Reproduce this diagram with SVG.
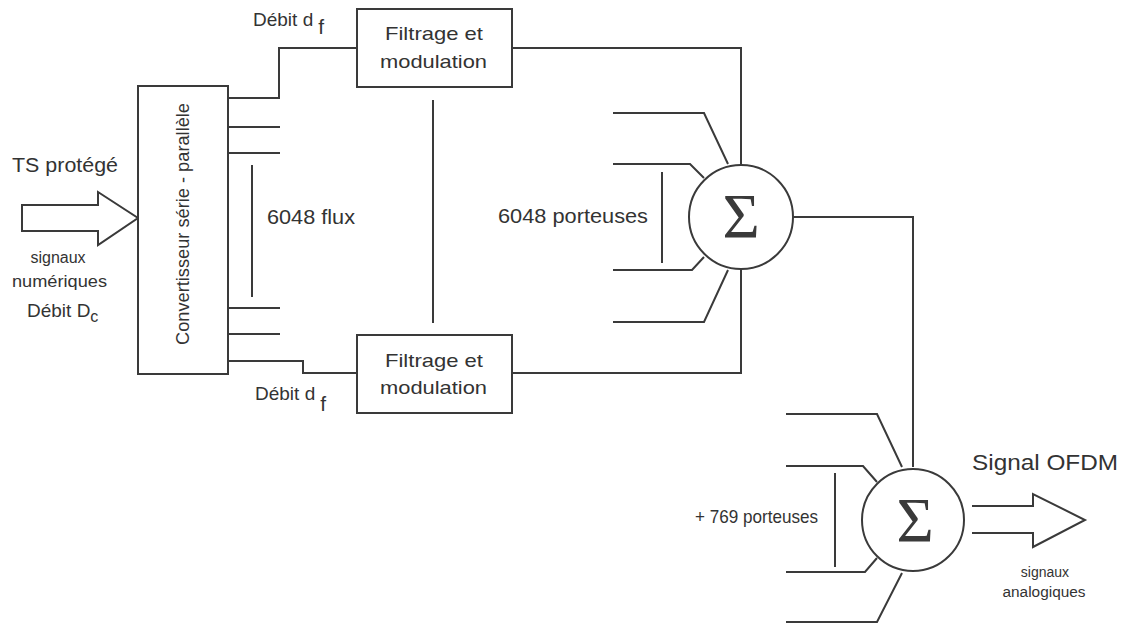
<svg xmlns="http://www.w3.org/2000/svg" width="1125" height="624" viewBox="0 0 1125 624">
<style>
.ln{fill:none;stroke:#3a3a3a;stroke-width:2}
.bx{fill:#fff;stroke:#3a3a3a;stroke-width:2}
.t{font-family:"Liberation Sans",Arial,sans-serif;fill:#333}
.sg{font-family:"Liberation Serif","Times New Roman",serif;fill:#3a3a3a;font-size:64px;text-anchor:middle}
</style>
<rect width="1125" height="624" fill="#fff"/>
<g id="connectors">
<polyline class="ln" points="228,98 279,98 279,48 357,48"/>
<line class="ln" x1="228" y1="127" x2="280" y2="127"/>
<line class="ln" x1="228" y1="153" x2="280" y2="153"/>
<line class="ln" x1="252" y1="165" x2="252" y2="297"/>
<line class="ln" x1="228" y1="308" x2="280" y2="308"/>
<line class="ln" x1="228" y1="334" x2="280" y2="334"/>
<polyline class="ln" points="228,361 303,361 303,373 357,373"/>
<line class="ln" x1="433" y1="100" x2="433" y2="323"/>
<polyline class="ln" points="512,48 741,48 741,165"/>
<polyline class="ln" points="512,373 741,373 741,269"/>
<polyline class="ln" points="613,113 704,113 728,164"/>
<polyline class="ln" points="613,164 690,164 704,178"/>
<line class="ln" x1="662" y1="172" x2="662" y2="263"/>
<polyline class="ln" points="613,270 692,270 704,257"/>
<polyline class="ln" points="613,322 704,322 728,270"/>
<polyline class="ln" points="792,217 913,217 913,467"/>
<polyline class="ln" points="786,414 877,414 902,467"/>
<polyline class="ln" points="786,466 863,466 877,482"/>
<line class="ln" x1="835" y1="473" x2="835" y2="567"/>
<polyline class="ln" points="786,572 865,572 877,558"/>
<polyline class="ln" points="786,622 877,622 902,573"/>
</g>
<g id="input-arrow">
<polygon class="bx" points="22,205 98,205 98,192 138,218 98,245 98,231 22,231"/>
<text class="t" x="12" y="172" font-size="20" textLength="106" lengthAdjust="spacingAndGlyphs">TS protégé</text>
<text class="t" x="58" y="263" font-size="16" text-anchor="middle">signaux</text>
<text class="t" x="12" y="287" font-size="16" textLength="95" lengthAdjust="spacingAndGlyphs">numériques</text>
<text class="t" x="27" y="317" font-size="19">Débit D<tspan font-size="16" dy="5">c</tspan></text>
</g>
<g id="converter">
<rect class="bx" x="138" y="86" width="90" height="288"/>
<text class="t" transform="translate(189,345) rotate(-90)" font-size="18" textLength="242" lengthAdjust="spacingAndGlyphs">Convertisseur série - parallèle</text>
</g>
<g id="filter-top">
<rect class="bx" x="357" y="9" width="155" height="78"/>
<text class="t" x="385" y="40" font-size="19" textLength="98" lengthAdjust="spacingAndGlyphs">Filtrage et</text>
<text class="t" x="380" y="68" font-size="19" textLength="107" lengthAdjust="spacingAndGlyphs">modulation</text>
</g>
<g id="filter-bottom">
<rect class="bx" x="357" y="335" width="155" height="78"/>
<text class="t" x="385" y="367" font-size="19" textLength="98" lengthAdjust="spacingAndGlyphs">Filtrage et</text>
<text class="t" x="380" y="394" font-size="19" textLength="107" lengthAdjust="spacingAndGlyphs">modulation</text>
</g>
<g id="labels">
<text class="t" x="253" y="26" font-size="19">Débit d<tspan font-size="21" dx="5" dy="8">f</tspan></text>
<text class="t" x="255" y="400" font-size="19">Débit d<tspan font-size="21" dx="5" dy="11">f</tspan></text>
<text class="t" x="267" y="224" font-size="20" textLength="88" lengthAdjust="spacingAndGlyphs">6048 flux</text>
<text class="t" x="498" y="223" font-size="20" textLength="150" lengthAdjust="spacingAndGlyphs">6048 porteuses</text>
<text class="t" x="695" y="523" font-size="19" textLength="123" lengthAdjust="spacingAndGlyphs">+ 769 porteuses</text>
</g>
<g id="sum1">
<circle class="bx" cx="741" cy="217" r="52"/>
<text class="sg" x="741" y="238">Σ</text>
</g>
<g id="sum2">
<circle class="bx" cx="913" cy="520" r="51"/>
<text class="sg" x="915" y="542">Σ</text>
</g>
<g id="output-arrow">
<polyline class="ln" points="972,506 1033,506 1033,494 1085,520 1033,547 1033,533 972,533"/>
<text class="t" x="972" y="470" font-size="22" textLength="146" lengthAdjust="spacingAndGlyphs">Signal OFDM</text>
<text class="t" x="1045" y="577" font-size="14" text-anchor="middle">signaux</text>
<text class="t" x="1044" y="597" font-size="14" text-anchor="middle" textLength="83" lengthAdjust="spacingAndGlyphs">analogiques</text>
</g>
</svg>
